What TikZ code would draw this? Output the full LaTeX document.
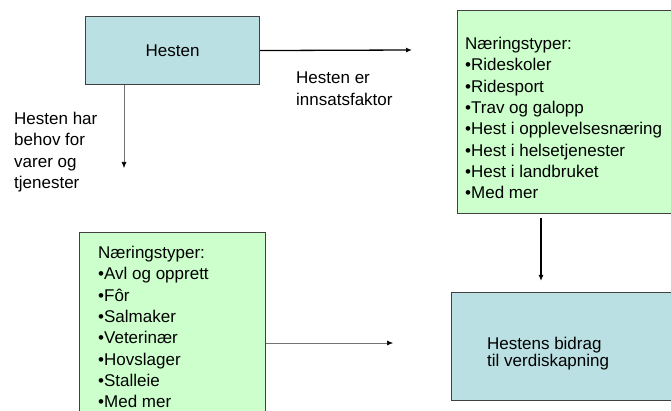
\documentclass[tikz,border=0pt]{standalone}
\usepackage{fontspec}
\setmainfont{Liberation Sans}
\usepackage{tikz}
\usetikzlibrary{arrows.meta, positioning}

\definecolor{boxblue}{RGB}{187,224,227}
\definecolor{boxgreen}{RGB}{204,255,204}

\begin{document}
\begin{tikzpicture}[x=1pt, y=-1pt]
\tikzset{
  box/.style={
    draw=black!75,
    line width=1.1pt,
    rectangle,
    anchor=north west,
    inner sep=0pt
  },
  bluebox/.style={box, fill=boxblue},
  greenbox/.style={box, fill=boxgreen},
  lbl/.style={
    anchor=north west,
    inner sep=0pt,
    align=left,
    font=\fontsize{17}{21.3}\selectfont
  },
  thinarrow/.style={draw=black!55, line width=0.6pt, -{Latex[length=6pt, width=5pt, black]}},
  thickarrow/.style={draw=black, line width=1.3pt, -{Latex[length=6pt, width=5pt]}}
}
\useasboundingbox (0,0) rectangle (671,411);

% Hesten
\node[bluebox, minimum width=174pt, minimum height=68pt] (hesten) at (85,16) {};
\node[font=\fontsize{17}{20}\selectfont] (hestentxt) at (hesten.center) {Hesten};

% Naeringstyper (innsatsfaktor)
\node[greenbox, minimum width=260pt, minimum height=203pt] (innsats) at (457,10) {};
\node[lbl] (innsatstxt) at ([xshift=8pt, yshift=-27pt]innsats.north west) {Næringstyper:\\•Rideskoler\\•Ridesport\\•Trav og galopp\\•Hest i opplevelsesnæring\\•Hest i helsetjenester\\•Hest i landbruket\\•Med mer};

% Naeringstyper (behov)
\node[greenbox, minimum width=186pt, minimum height=230pt] (behov) at (79,232) {};
\node[lbl] (behovtxt) at ([xshift=19pt, yshift=-14pt]behov.north west) {Næringstyper:\\•Avl og opprett\\•Fôr\\•Salmaker\\•Veterinær\\•Hovslager\\•Stalleie\\•Med mer};

% Verdiskapning
\node[bluebox, minimum width=260pt, minimum height=108pt] (bidrag) at (451,292) {};
\node[lbl, font=\fontsize{17}{17}\selectfont] (bidragtxt) at ([xshift=36pt, yshift=-45pt]bidrag.north west) {Hestens bidrag\\til verdiskapning};

% Labels
\node[lbl] (innsatslbl) at (296,72) {Hesten er\\innsatsfaktor};
\node[lbl] (behovlbl) at (14,112) {Hesten har\\behov for\\varer og\\tjenester};

% Arrows
\coordinate (innsatsend) at (412,50);
\coordinate (behovend) at (124,168);
\coordinate (bidragend) at (393,343);
\draw[thickarrow] (hesten.east) -- (innsatsend);
\draw[thinarrow] (hesten.south -| behovend) -- (behovend);
\draw[thickarrow, shorten <=4pt, shorten >=11pt] (innsats.south -| 541,0) -- (bidrag.north -| 541,0);
\draw[thinarrow] (behov.east |- bidragend) -- (bidragend);

\end{tikzpicture}
\end{document}
